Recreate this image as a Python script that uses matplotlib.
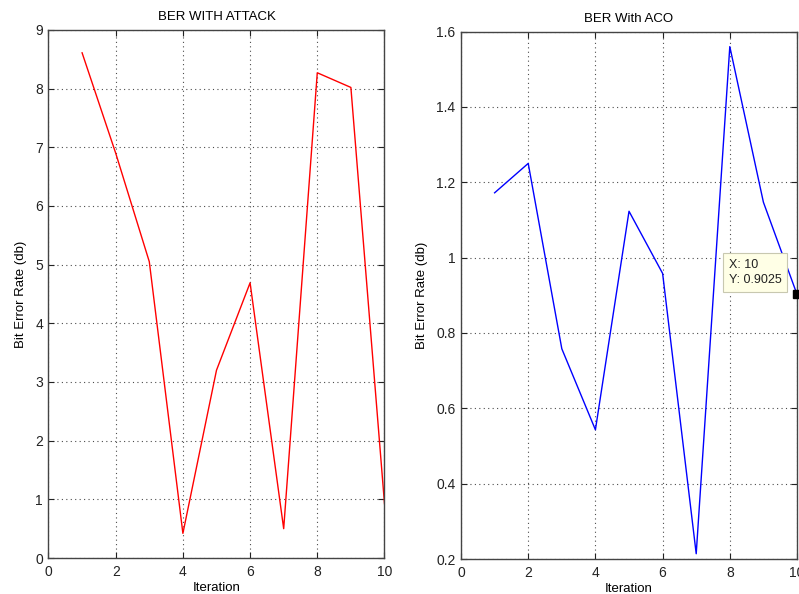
import matplotlib
matplotlib.use("Agg")
import matplotlib.pyplot as plt

iterations = [1, 2, 3, 4, 5, 6, 7, 8, 9, 10]
ber_attack = [8.61, 6.9, 5.05, 0.42, 3.2, 4.69, 0.5, 8.27, 8.02, 0.93]
ber_aco = [1.172, 1.25, 0.758, 0.543, 1.123, 0.958, 0.214, 1.56, 1.147, 0.9025]

plt.rcParams['font.family'] = ['Liberation Sans', 'DejaVu Sans']

fig = plt.figure(figsize=(7.99, 5.94), dpi=100)
ax1 = fig.add_axes([0.0607, 0.0606, 0.4205, 0.889])
ax2 = fig.add_axes([0.577, 0.0589, 0.4205, 0.888])

def style(ax):
    ax.grid(True, linestyle=(0, (1, 3)), color='black', linewidth=0.8, alpha=0.7)
    ax.tick_params(direction='in', top=True, right=True, length=4, width=0.8,
                   labelsize=10, colors='#222222')
    ax.tick_params(axis='x', pad=5)
    ax.tick_params(axis='y', pad=4)
    for s in ax.spines.values():
        s.set_linewidth(1.0)
        s.set_color('#444444')
    ax.set_xlabel('Iteration', fontsize=9.5, labelpad=2)
    ax.set_ylabel('Bit Error Rate (db)', fontsize=9.5, labelpad=6)

ax1.plot(iterations, ber_attack, color='#ff0000', linewidth=1.0)
ax1.set_xlim(0, 10)
ax1.set_ylim(0, 9)
ax1.set_xticks([0, 2, 4, 6, 8, 10])
ax1.set_yticks(range(0, 10))
ax1.set_title('BER WITH ATTACK', fontsize=9.5, pad=7)
style(ax1)

ax2.plot(iterations, ber_aco, color='#0000ff', linewidth=1.0)
ax2.set_xlim(0, 10)
ax2.set_ylim(0.2, 1.6)
ax2.set_xticks([0, 2, 4, 6, 8, 10])
ax2.set_yticks([0.2, 0.4, 0.6, 0.8, 1.0, 1.2, 1.4, 1.6])
ax2.set_yticklabels(['0.2', '0.4', '0.6', '0.8', '1', '1.2', '1.4', '1.6'])
ax2.set_title('BER With ACO', fontsize=9.5, pad=7)
style(ax2)

# data tip
ax2.plot([iterations[-1]], [ber_aco[-1]], marker='s', color='black', markersize=6,
         clip_on=False, zorder=5)
ax2.annotate('X: %d\nY: %.4f' % (iterations[-1], ber_aco[-1]),
             xy=(iterations[-1], ber_aco[-1]), xytext=(-49, 6),
             textcoords='offset points', fontsize=9, color='#222222',
             ha='left', va='bottom', linespacing=1.35,
             bbox=dict(boxstyle='square,pad=0.45', fc='#ffffe6', ec='#c8c8b0', lw=0.8),
             zorder=6, annotation_clip=False)

fig.savefig('out.png', dpi=100)
